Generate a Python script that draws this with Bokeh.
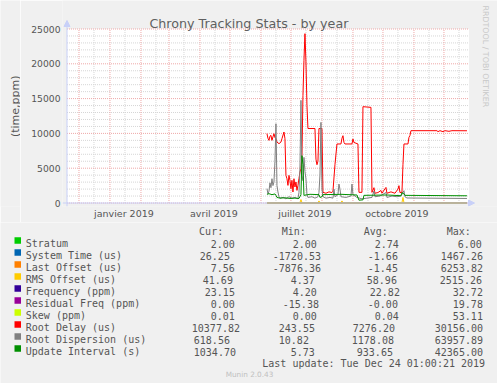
import math
import pandas as pd
from bokeh.plotting import figure
from bokeh.layouts import column, row
from bokeh.models import (Range1d, FixedTicker, Label, Arrow, NormalHead, BoxAnnotation)
from bokeh.core.properties import value
from bokeh.embed import file_html
from bokeh.resources import INLINE

# ---------------- data ----------------
TITLE = "Chrony Tracking Stats - by year"
Y_LABEL = "(time,ppm)"
SIDE_TEXT = "RRDTOOL / TOBI OETIKER"
FOOTER = "Munin 2.0.43"
LAST_UPDATE = "Last update: Tue Dec 24 01:00:21 2019"

X_START = "2018-11-19 01:00"
X_DAYS = 402
y_ticks = [0, 5000, 10000, 15000, 20000, 25000]
y_minor = [1000, 2000, 3000, 4000, 6000, 7000, 8000, 9000, 11000, 12000, 13000, 14000,
           16000, 17000, 18000, 19000, 21000, 22000, 23000, 24000]
x_label_dates = ["2019-01-15", "2019-04-15", "2019-07-15", "2019-10-15"]
x_labels = ["janvier 2019", "avril 2019", "juillet 2019", "octobre 2019"]
month_starts = ["2018-12-01", "2019-01-01", "2019-02-01", "2019-03-01", "2019-04-01",
                "2019-05-01", "2019-06-01", "2019-07-01", "2019-08-01", "2019-09-01",
                "2019-10-01", "2019-11-01", "2019-12-01"]
mid_months = ["2018-12-16", "2019-01-16", "2019-02-16", "2019-03-16", "2019-04-16",
              "2019-05-16", "2019-06-16", "2019-07-16", "2019-08-16", "2019-09-16",
              "2019-10-16", "2019-11-16", "2019-12-16"]

series_names = ["Stratum", "System Time (us)", "Last Offset (us)", "RMS Offset (us)",
                "Frequency (ppm)", "Residual Freq (ppm)", "Skew (ppm)", "Root Delay (us)",
                "Root Dispersion (us)", "Update Interval (s)"]
series_colors = ["#00CC00", "#0066B3", "#FF8000", "#FFCC00", "#330099", "#990099",
                 "#CCFF00", "#FF0000", "#808080", "#008F00"]
cur_vals = ["2.00", "26.25", "7.56", "41.69", "23.15", "0.00", "0.01", "10377.82", "618.56", "1034.70"]
min_vals = ["2.00", "-1720.53", "-7876.36", "4.37", "4.20", "-15.38", "0.00", "243.55", "10.82", "5.73"]
avg_vals = ["2.74", "-1.66", "-1.45", "58.96", "22.82", "-0.00", "0.04", "7276.20", "1178.08", "933.65"]
max_vals = ["6.00", "1467.26", "6253.82", "2515.26", "32.72", "19.78", "53.11", "30156.00", "63957.89", "42365.00"]

stratum = [("2019-06-07", 3), ("2019-12-24", 2)]
system_time = [("2019-06-07", 0), ("2019-12-24", 26)]
last_offset = [("2019-06-07", 0), ("2019-12-24", 8)]
rms_offset = [("2019-06-07", 60), ("2019-07-10", 60), ("2019-07-11", 500), ("2019-07-12", 60),
              ("2019-07-28", 60), ("2019-07-29", 300), ("2019-07-30", 60), ("2019-08-20", 60),
              ("2019-08-21", 300), ("2019-08-22", 60), ("2019-10-20", 60), ("2019-10-21", 800),
              ("2019-10-22", 60), ("2019-12-24", 42)]
frequency = [("2019-06-07", 20), ("2019-12-24", 23)]
residual_freq = [("2019-06-07", 0), ("2019-12-24", 0)]
skew = [("2019-06-07", 0.04), ("2019-12-24", 0.01)]

root_delay = [
    ("2019-06-07", 9960), ("2019-06-08", 9300), ("2019-06-09", 9000), ("2019-06-10", 9600),
    ("2019-06-11", 9720), ("2019-06-12", 9000), ("2019-06-13", 9500), ("2019-06-14", 9960),
    ("2019-06-15", 9400), ("2019-06-16", 9230), ("2019-06-17", 8760), ("2019-06-19", 8520),
    ("2019-06-21", 8760), ("2019-06-22", 9240), ("2019-06-24", 10200), ("2019-06-25", 9240),
    ("2019-06-26", 3970), ("2019-06-27", 3490), ("2019-06-28", 2530), ("2019-06-29", 3970),
    ("2019-06-30", 3250), ("2019-07-01", 2060), ("2019-07-02", 3250), ("2019-07-03", 1580),
    ("2019-07-04", 3490), ("2019-07-05", 2300), ("2019-07-06", 3020), ("2019-07-07", 1810),
    ("2019-07-08", 2530), ("2019-07-09", 3500), ("2019-07-10", 4450), ("2019-07-11", 4930),
    ("2019-07-12", 6840), ("2019-07-13", 15460), ("2019-07-14", 20500), ("2019-07-15", 24330),
    ("2019-07-16", 20260), ("2019-07-17", 14000), ("2019-07-18", 10700), ("2019-07-25", 10700),
    ("2019-07-26", 6300), ("2019-07-27", 5500), ("2019-07-28", 6000), ("2019-07-29", 10700),
    ("2019-08-01", 10700), ("2019-08-02", 1530), ("2019-08-05", 1400), ("2019-08-08", 1600),
    ("2019-08-11", 1500), ("2019-08-12", 1700), ("2019-08-14", 5500), ("2019-08-16", 8480),
    ("2019-08-20", 8480), ("2019-08-21", 9300), ("2019-08-22", 9670), ("2019-08-23", 8710),
    ("2019-08-24", 8480), ("2019-08-31", 8480), ("2019-09-01", 9200), ("2019-09-02", 8700),
    ("2019-09-06", 8480), ("2019-09-07", 1530), ("2019-09-10", 1530), ("2019-09-11", 13840),
    ("2019-09-19", 13740), ("2019-09-20", 1530), ("2019-09-22", 2200), ("2019-09-23", 1400),
    ("2019-09-26", 1500), ("2019-09-29", 1800), ("2019-09-30", 1400), ("2019-10-04", 2240),
    ("2019-10-05", 1400), ("2019-10-09", 1600), ("2019-10-13", 1400), ("2019-10-16", 2000),
    ("2019-10-17", 2490), ("2019-10-18", 1500), ("2019-10-20", 1530), ("2019-10-21", 5500),
    ("2019-10-22", 8480), ("2019-10-26", 8480), ("2019-10-27", 9430), ("2019-10-28", 9700),
    ("2019-10-29", 10390), ("2019-11-24", 10390), ("2019-11-25", 10250), ("2019-11-27", 10390),
    ("2019-11-30", 10250), ("2019-12-02", 10390), ("2019-12-06", 10300), ("2019-12-09", 10390),
    ("2019-12-24", 10380)]

root_dispersion = [
    ("2019-06-07", 2060), ("2019-06-08", 1300), ("2019-06-09", 1700), ("2019-06-10", 2900),
    ("2019-06-11", 2200), ("2019-06-12", 3490), ("2019-06-13", 2500), ("2019-06-14", 3000),
    ("2019-06-15", 6000), ("2019-06-16", 11390), ("2019-06-17", 2530), ("2019-06-18", 1580),
    ("2019-06-19", 900), ("2019-06-20", 700), ("2019-06-23", 800), ("2019-06-26", 600),
    ("2019-06-29", 900), ("2019-07-02", 700), ("2019-07-05", 800), ("2019-07-08", 600),
    ("2019-07-09", 1500), ("2019-07-10", 5000), ("2019-07-11", 14750), ("2019-07-12", 4000),
    ("2019-07-13", 3200), ("2019-07-14", 6550), ("2019-07-15", 4500), ("2019-07-16", 3490),
    ("2019-07-17", 1200), ("2019-07-18", 800), ("2019-07-22", 900), ("2019-07-25", 700),
    ("2019-07-28", 900), ("2019-07-29", 1500), ("2019-07-30", 4000), ("2019-07-31", 11580),
    ("2019-08-01", 2000), ("2019-08-02", 900), ("2019-08-05", 700), ("2019-08-09", 800),
    ("2019-08-12", 700), ("2019-08-13", 2000), ("2019-08-14", 900), ("2019-08-17", 1200),
    ("2019-08-18", 2720), ("2019-08-19", 2000), ("2019-08-20", 900), ("2019-08-25", 800),
    ("2019-08-30", 1000), ("2019-08-31", 2720), ("2019-09-01", 1200), ("2019-09-05", 800),
    ("2019-09-10", 600), ("2019-09-15", 700), ("2019-09-20", 800), ("2019-09-22", 1720),
    ("2019-09-23", 900), ("2019-09-28", 1000), ("2019-10-04", 1500), ("2019-10-05", 800),
    ("2019-10-10", 1000), ("2019-10-15", 900), ("2019-10-19", 1000), ("2019-10-22", 1770),
    ("2019-10-23", 900), ("2019-10-25", 720), ("2019-12-24", 650)]

update_interval = [
    ("2019-06-07", 1240), ("2019-06-09", 1340), ("2019-06-12", 1200), ("2019-06-15", 1300),
    ("2019-06-16", 1100), ("2019-06-17", 800), ("2019-06-20", 700), ("2019-06-25", 750),
    ("2019-06-30", 650), ("2019-07-05", 700), ("2019-07-09", 650), ("2019-07-10", 900),
    ("2019-07-11", 1200), ("2019-07-12", 6800), ("2019-07-13", 5500), ("2019-07-14", 1100),
    ("2019-07-20", 1250), ("2019-07-29", 1200), ("2019-07-30", 800), ("2019-08-01", 900),
    ("2019-08-02", 1200), ("2019-08-20", 1250), ("2019-09-05", 1150), ("2019-09-07", 400),
    ("2019-09-11", 450), ("2019-09-12", 1100), ("2019-10-05", 1150), ("2019-10-19", 1050),
    ("2019-10-20", 1500), ("2019-10-22", 1300), ("2019-10-23", 1100), ("2019-12-24", 1035)]

all_series = [stratum, system_time, last_offset, rms_offset, frequency, residual_freq,
              skew, root_delay, root_dispersion, update_interval]

# ---------------- layout / style ----------------
FONT = "DejaVu Sans"
MONO = "DejaVu Sans Mono"
TXT = "#555555"
BG = "#F0F0F0"
AXIS_C = "#C8D0F8"
MGRID = "#EFA8A8"
GRID = "#D6D6D6"

# page geometry of the chart block (pixels)
YLAB_W = 20          # width of the y-label strip
CH_W, CH_H = 497 - YLAB_W, 222
FR_L, FR_B = 62, 206  # page position of chart frame left / bottom (frame reaches top & right)
PLOT_X0, PLOT_Y0, PLOT_Y1 = 66.5, 202.5, 28.5  # page pixels of start date, value 0, value 25000
VPP = 25000 / (PLOT_Y0 - PLOT_Y1)               # value per pixel
DPP = 1.0                                        # days per pixel

x0 = pd.Timestamp(X_START)
x_lo = x0 - pd.Timedelta(days=(PLOT_X0 - FR_L) * DPP)
x_hi = x_lo + pd.Timedelta(days=(497 - FR_L) * DPP)
y_lo = -(FR_B - PLOT_Y0) * VPP
y_hi = 25000 + PLOT_Y1 * VPP
x_end = x0 + pd.Timedelta(days=X_DAYS)


def ms(d):
    return pd.Timestamp(d).value / 1e6


def sx(px):
    return px - FR_L


def sy(py):
    return FR_B - py


p = figure(width=CH_W, height=CH_H, x_axis_type="datetime", output_backend="svg",
           toolbar_location=None, title=None,
           x_range=Range1d(x_lo, x_hi), y_range=Range1d(y_lo, y_hi),
           min_border_left=FR_L - YLAB_W, min_border_right=0, min_border_top=0,
           min_border_bottom=CH_H - FR_B,
           background_fill_color=BG, border_fill_color=BG, outline_line_color=None)
p.xgrid.visible = False
p.ygrid.visible = False

# white canvas of the graph
p.add_layout(BoxAnnotation(left=ms(x0), right=ms(x_end), bottom=0, top=25000,
                           fill_color="white", fill_alpha=1, line_color=None, level="underlay"))

# grid lines (minor first, then major)
xs_min = [pd.Timestamp(d) for d in mid_months]
xs_maj = [pd.Timestamp(d) for d in month_starts]
p.segment(x0=[x0] * len(y_minor), y0=y_minor, x1=[x_end] * len(y_minor), y1=y_minor,
          line_color=GRID, line_dash="1 1", line_width=1)
p.segment(x0=xs_min, y0=[0] * len(xs_min), x1=xs_min, y1=[25000] * len(xs_min),
          line_color=GRID, line_dash="1 1", line_width=1)
p.segment(x0=[x0] * len(y_ticks), y0=y_ticks, x1=[x_end] * len(y_ticks), y1=y_ticks,
          line_color=MGRID, line_dash="1 1", line_width=1)
p.segment(x0=xs_maj, y0=[0] * len(xs_maj), x1=xs_maj, y1=[25000] * len(xs_maj),
          line_color=MGRID, line_dash="1 1", line_width=1)

# axes
p.yaxis.ticker = FixedTicker(ticks=y_ticks)
p.yaxis.axis_line_color = None
p.yaxis.major_tick_line_color = None
p.yaxis.minor_tick_line_color = None
p.yaxis.major_tick_out = 0
p.yaxis.major_tick_in = 0
p.yaxis.major_label_standoff = 2
p.yaxis.major_label_text_font = FONT
p.yaxis.major_label_text_font_size = "9.2px"
p.yaxis.major_label_text_color = TXT

lab_ms = [ms(d) for d in x_label_dates]
p.xaxis.ticker = FixedTicker(ticks=lab_ms)
p.xaxis.major_label_overrides = {t: l for t, l in zip(lab_ms, x_labels)}
p.xaxis.axis_line_color = None
p.xaxis.major_tick_line_color = None
p.xaxis.minor_tick_line_color = None
p.xaxis.major_tick_out = 0
p.xaxis.major_tick_in = 0
p.xaxis.major_label_standoff = 1
p.xaxis.major_label_text_font = FONT
p.xaxis.major_label_text_font_size = "9.5px"
p.xaxis.major_label_text_color = TXT

# data lines
for pts, col in zip(all_series, series_colors):
    xs = pd.to_datetime([d for d, _ in pts])
    ys = [v for _, v in pts]
    p.line(xs, ys, line_color=col, line_width=1)

# axis lines with arrows
p.add_layout(Arrow(x_start=sx(66.5), y_start=sy(206), x_end=sx(66.5), y_end=sy(20),
                   start_units="screen", end_units="screen",
                   line_color=AXIS_C, line_width=1,
                   end=NormalHead(size=6, fill_color=AXIS_C, line_color=AXIS_C)))
p.add_layout(Arrow(x_start=sx(62), y_start=sy(202.5), x_end=sx(474), y_end=sy(202.5),
                   start_units="screen", end_units="screen",
                   line_color=AXIS_C, line_width=1,
                   end=NormalHead(size=6, fill_color=AXIS_C, line_color=AXIS_C)))

# title / side text (inside the frame area)
p.add_layout(Label(x=sx(248.4), y=sy(23.3), x_units="screen", y_units="screen", text=TITLE,
                   text_align="center", text_baseline="alphabetic", text_font=FONT,
                   text_font_size="12.7px", text_color="#5f5f5f"))
p.add_layout(Label(x=sx(485), y=sy(5), x_units="screen", y_units="screen", text=SIDE_TEXT,
                   angle=-math.pi / 2, text_align="left", text_baseline="alphabetic",
                   text_font=FONT, text_font_size="7.9px", text_color="#C8C8C8"))

# y label strip
q = figure(width=YLAB_W, height=CH_H, output_backend="svg", toolbar_location=None, title=None,
           x_range=Range1d(0, YLAB_W), y_range=Range1d(CH_H, 0),
           x_axis_location=None, y_axis_location=None, min_border=0,
           background_fill_color=BG, border_fill_color=BG, outline_line_color=None)
q.xgrid.visible = False
q.ygrid.visible = False
q.text(x=[14.5], y=[114], text=[Y_LABEL], angle=math.pi / 2, text_align="center",
       text_baseline="alphabetic", text_font=value(FONT), text_font_size="11px",
       text_color=TXT)

# legend block
LG_TOP = CH_H
L = figure(width=497, height=383 - LG_TOP, output_backend="svg", toolbar_location=None,
           title=None, x_range=Range1d(0, 497), y_range=Range1d(383, LG_TOP),
           x_axis_location=None, y_axis_location=None, min_border=0,
           background_fill_color=BG, border_fill_color=BG, outline_line_color=None)
L.xgrid.visible = False
L.ygrid.visible = False

row_base = [243.3 + 12 * i for i in range(len(series_names))]
cur_x = [211, 200, 211, 203, 205, 211, 211, 192, 194, 194]
min_x = [293, 273, 273, 291, 293, 283, 293, 279, 279, 291]
avg_x = [375, 368, 368, 367, 370, 368, 375, 353, 352, 357]
max_x = [458, 441, 441, 440, 453, 453, 453, 435, 435, 435]

texts, lx, ly = [], [], []


def add(t, px, py):
    texts.append(t)
    lx.append(px - 0.7)
    ly.append(py)


for t, px in [("Cur:", 199.3), ("Min:", 282), ("Avg:", 364), ("Max:", 447)]:
    add(t, px, 231.3)
for i, name in enumerate(series_names):
    add(name, 26, row_base[i])
    add(cur_vals[i], cur_x[i], row_base[i])
    add(min_vals[i], min_x[i], row_base[i])
    add(avg_vals[i], avg_x[i], row_base[i])
    add(max_vals[i], max_x[i], row_base[i])
add(LAST_UPDATE, 262.5, 363.3)

L.text(x=lx, y=ly, text=texts, text_align="left", text_baseline="alphabetic",
       text_font=value(MONO), text_font_size="10px", text_color=TXT)
L.rect(x=[17.25] * len(series_names), y=[b - 3.3 for b in row_base], width=6.5, height=6.5,
       fill_color=series_colors, line_color=None)
L.text(x=[249], y=[374.3], text=[FOOTER], text_align="center", text_baseline="alphabetic",
       text_font=value(FONT), text_font_size="7.3px", text_color="#C0C0C0")

layout = column(row(q, p), L)
open("out.html", "w").write(file_html(layout, INLINE))
